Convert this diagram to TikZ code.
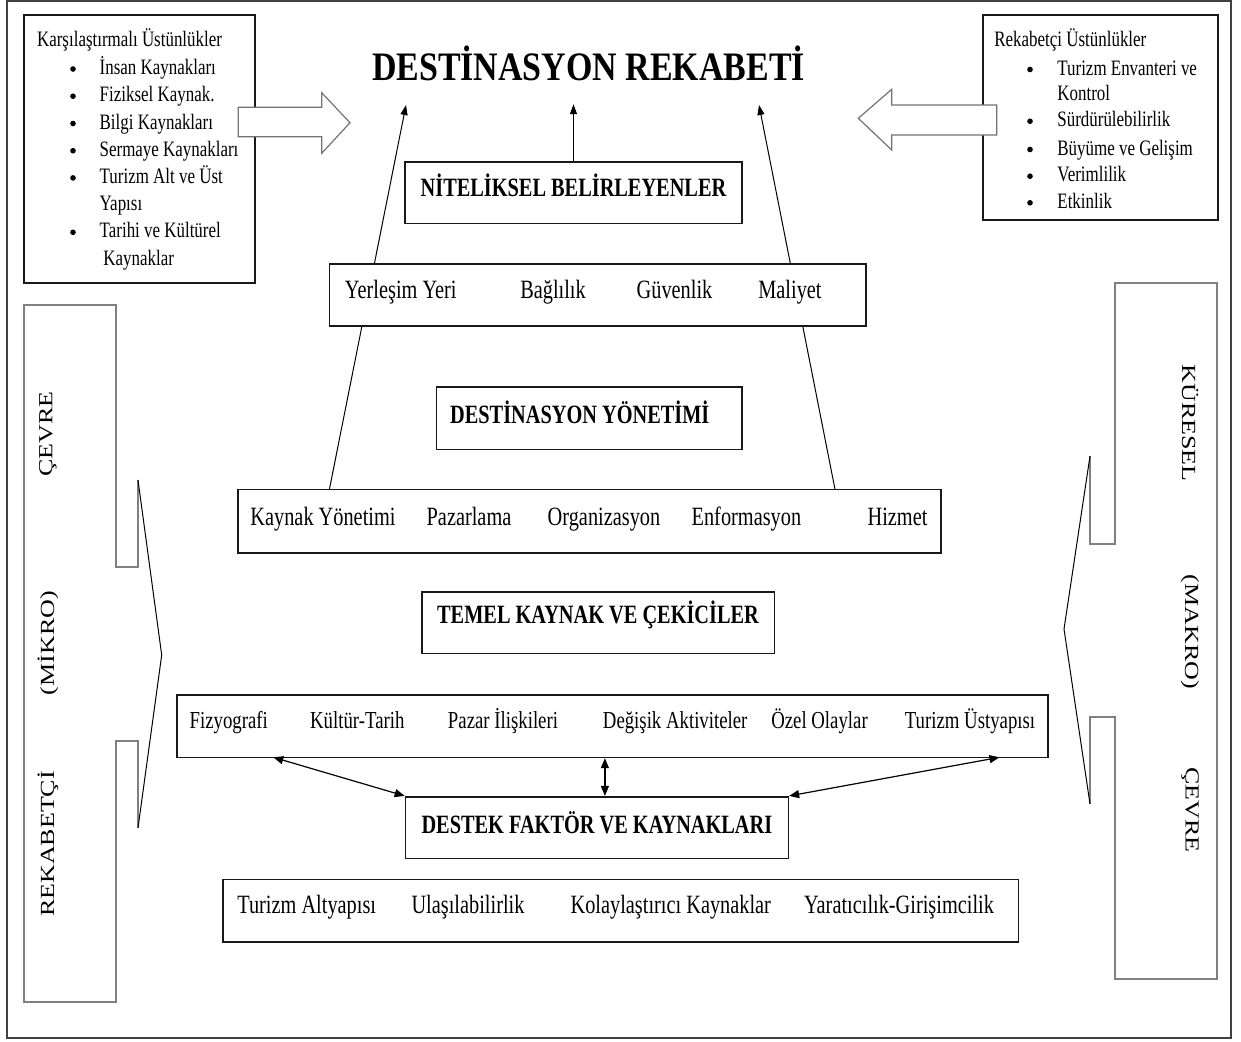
\documentclass[tikz,border=0pt]{standalone}
\usepackage{fontspec}
\setmainfont{Liberation Serif}[FakeStretch=0.77]
\newfontfamily\titlefont{Liberation Serif}[FakeStretch=0.84]
\newfontfamily\plainfont{Liberation Serif}
\usepackage{graphicx}
\usetikzlibrary{arrows.meta,backgrounds}
\newcommand{\bodysize}{\fontsize{13.2pt}{16pt}\selectfont}
\newcommand{\rowsize}{\fontsize{12.2pt}{15pt}\selectfont}
\newcommand{\sidesize}{\fontsize{11pt}{13.6pt}\selectfont}
\newcommand{\squeeze}[1]{\scalebox{1}[0.77]{#1}}
\tikzset{
  frame/.style={draw=black!75,line width=0.75pt},
  box/.style={draw=black!90,line width=0.8pt,fill=white,inner sep=0pt},
  head/.style={box,font=\bodysize\bfseries,anchor=base},
  hollow/.style={draw=black!55,line width=0.6pt,fill=white,line join=miter},
  bracket/.style={draw=black!50,line width=0.6pt},
  wedge/.style={draw=black,line width=0.5pt},
  arr/.style={-{Triangle[length=5pt,width=3.5pt]},line width=0.5pt},
  darr/.style={{Triangle[length=5pt,width=4pt]}-{Triangle[length=5pt,width=4pt]},line width=0.6pt},
  txt/.style={font=\bodysize,inner sep=0pt,anchor=base},
  rowtxt/.style={font=\rowsize,inner sep=0pt,anchor=base},
  sidetxt/.style={font=\sidesize,inner sep=0pt,anchor=base west},
  dot/.style={circle,fill=black,inner sep=0pt,minimum size=2.8pt},
  rotlbl/.style={font=\plainfont\fontsize{13pt}{15pt}\selectfont,inner sep=0pt},
}
\begin{document}
\begin{tikzpicture}[x=0.5pt,y=-0.5pt]
  \useasboundingbox (0,0) rectangle (1241,1041);
  \draw[frame] (7,1) rectangle (1231,1038);

  % comparative advantages (left box)
  \node[box,minimum width=115.5pt,minimum height=134pt] (kars) at (139.5,149) {};
  \node[sidetxt] (karsH) at (36.7,46.7) {Karşılaştırmalı Üstünlükler};
  \foreach \t/\y [count=\i] in {İnsan Kaynakları/74.5, Fiziksel Kaynak./101.7,
      Bilgi Kaynakları/129, Sermaye Kaynakları/156.2, Turizm Alt ve Üst/183.4,
      Tarihi ve Kültürel/237.8}{
    \node[dot] (karsB\i) at (73,\y-5.5) {};
    \node[sidetxt] (karsI\i) at (99.3,\y) {\t};
  }
  \node[sidetxt] (karsY) at (99.3,210.6) {Yapısı};
  \node[sidetxt] (karsK) at (103,265) {Kaynaklar};

  % competitive advantages (right box)
  \node[box,minimum width=117.5pt,minimum height=102.5pt] (rek) at (1100.5,117.5) {};
  \node[sidetxt] (rekH) at (994,46.7) {Rekabetçi Üstünlükler};
  \foreach \t/\y [count=\i] in {Turizm Envanteri ve/75, Sürdürülebilirlik/126.7,
      Büyüme ve Gelişim/155, Verimlilik/181.7, Etkinlik/208.3}{
    \node[dot] (rekB\i) at (1030,\y-5.5) {};
    \node[sidetxt] (rekI\i) at (1057,\y) {\t};
  }
  \node[sidetxt] (rekK) at (1057,100) {Kontrol};

  % hollow block arrows
  \draw[hollow] (238.3,107.3) -- (321.7,107.3) -- (321.7,92.7) -- (350,122.7)
    -- (321.7,153.3) -- (321.7,136.7) -- (238.3,136.7) -- cycle;
  \draw[hollow] (996.7,105) -- (891.7,105) -- (891.7,89.3) -- (858.3,118.3)
    -- (891.7,150) -- (891.7,135) -- (996.7,135) -- cycle;

  % title
  \node[font=\titlefont\bfseries\fontsize{20.2pt}{24pt}\selectfont,inner sep=0pt,anchor=base]
    (title) at (588.5,80) {DESTİNASYON REKABETİ};

  % headed boxes
  \node[head,minimum width=168.5pt,text height=17.5pt,text depth=13.3pt]
    (nit) at (573.5,196.7) {NİTELİKSEL BELİRLEYENLER};
  \node[head,minimum width=152.75pt,text height=18.15pt,text depth=13.15pt]
    (dy) at (589.3,423) {DESTİNASYON YÖNETİMİ\hspace*{9.5pt}};
  \node[head,minimum width=176.3pt,text height=15.65pt,text depth=15.15pt]
    (tem) at (598,623) {TEMEL KAYNAK VE ÇEKİCİLER};
  \node[head,minimum width=191.45pt,text height=18.15pt,text depth=12.65pt]
    (dst) at (596.9,833) {DESTEK FAKTÖR VE KAYNAKLARI};

  % row boxes
  \node[box,minimum width=268.3pt,minimum height=31pt] (yer) at (597.7,295) {};
  \foreach \t/\x [count=\i] in {Yerleşim Yeri/400.8, Bağlılık/553, Güvenlik/674.5, Maliyet/790}
    \node[txt] (yer\i) at (\x,298) {\t};

  \node[box,minimum width=351.55pt,minimum height=31.7pt] (kay) at (589.5,521) {};
  \foreach \t/\x [count=\i] in {Kaynak Yönetimi/323, Pazarlama/469, Organizasyon/604,
      Enformasyon/746.4, Hizmet/897.5}
    \node[txt] (kay\i) at (\x,525) {\t};

  \node[box,minimum width=435.55pt,minimum height=31.15pt] (fiz) at (612.5,726.2) {};
  \foreach \t/\x [count=\i] in {Fizyografi/228.8, Kültür-Tarih/357.3, Pazar İlişkileri/503,
      Değişik Aktiviteler/675.2, Özel Olaylar/819.5, Turizm Üstyapısı/970}
    \node[rowtxt] (fiz\i) at (\x,728) {\t};

  \node[box,minimum width=397.85pt,minimum height=31.2pt] (alt) at (620.7,910.5) {};
  \foreach \t/\x [count=\i] in {Turizm Altyapısı/306.7, Ulaşılabilirlik/468,
      Kolaylaştırıcı Kaynaklar/670.8, Yaratıcılık-Girişimcilik/899}
    \node[txt] (alt\i) at (\x,913) {\t};

  % arrows to the title
  \coordinate (kl) at (329.4,489.3);
  \coordinate (kr) at (835,489.3);
  \coordinate (tl) at (406,105);
  \coordinate (tr) at (759,105);
  \begin{scope}[on background layer]
    \draw[arr] (kl) -- (tl);
    \draw[arr] (kr) -- (tr);
  \end{scope}
  \draw[arr] (nit.north) -- ++(0,-56.7);

  % support factors
  \coordinate (fl) at (273.3,757.3);
  \coordinate (fr) at (999.5,757.3);
  \coordinate (dm) at ([xshift=4pt]dst.north);
  \draw[darr] (fl) -- (dst.north west);
  \draw[darr] (dm) -- (dm |- fiz.south);
  \draw[darr] (fr) -- (dst.north east);

  % micro environment (left)
  \draw[bracket] (138,480) -- (138,567) -- (116,567) -- (116,305) -- (24,305)
    -- (24,1002) -- (116,1002) -- (116,741) -- (138,741) -- (138,828);
  \draw[wedge] (138,480) -- (161.7,655) -- (138,828);
  \node[rotlbl,rotate=90] (mic1) at (48,434) {\squeeze{ÇEVRE}};
  \node[rotlbl,rotate=90] (mic2) at (48,643) {\squeeze{(MİKRO)}};
  \node[rotlbl,rotate=90] (mic3) at (48,844) {\squeeze{REKABETÇİ}};

  % macro environment (right)
  \draw[bracket] (1090,456) -- (1090,544) -- (1115,544) -- (1115,283) -- (1217,283)
    -- (1217,979) -- (1115,979) -- (1115,717) -- (1090,717) -- (1090,804);
  \draw[wedge] (1090,456) -- (1064,629) -- (1090,804);
  \node[rotlbl,rotate=-90] (mac1) at (1190,423) {\squeeze{KÜRESEL}};
  \node[rotlbl,rotate=-90] (mac2) at (1190,632) {\squeeze{(MAKRO)}};
  \node[rotlbl,rotate=-90] (mac3) at (1190,810) {\squeeze{ÇEVRE}};
\end{tikzpicture}
\end{document}
